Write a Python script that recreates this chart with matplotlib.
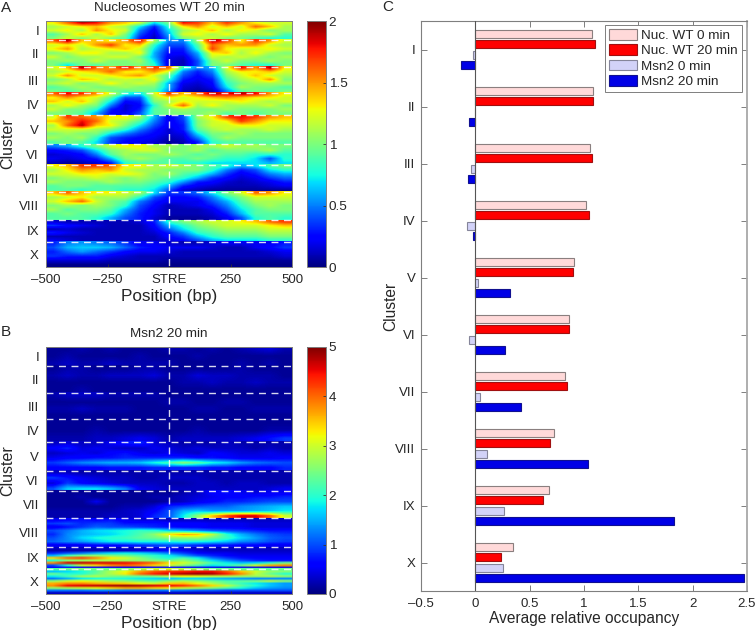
from matplotlib import pyplot as plt
from matplotlib.cm import ScalarMappable
from matplotlib.colors import Normalize

plt.rcParams['font.family'] = ['Liberation Sans', 'DejaVu Sans']

W, H = 756, 630

cluster_names = ['I', 'II', 'III', 'IV', 'V', 'VI', 'VII', 'VIII', 'IX', 'X']
cluster_edges = [0, 7.7, 18.7, 29.3, 38.3, 50.0, 58.4, 69.4, 80.9, 89.8, 100]
position_ticks = [-500, -250, 0, 250, 500]
position_labels = ['\u2013500', '\u2013250', 'STRE', '250', '500']

# panel C
nuc_0 = [1.077, 1.086, 1.058, 1.015, 0.905, 0.859, 0.822, 0.720, 0.675, 0.347]
nuc_20 = [1.104, 1.083, 1.074, 1.043, 0.896, 0.862, 0.844, 0.687, 0.623, 0.239]
msn_0 = [-0.018, -0.005, -0.037, -0.074, 0.020, -0.055, 0.043, 0.104, 0.260, 0.255]
msn_20 = [-0.135, -0.055, -0.067, -0.025, 0.316, 0.270, 0.417, 1.040, 1.825, 2.475]

# panel A, rough reading of the heatmap, rows top to bottom, columns -500..500
nuc_I = [[1.3,1.6,1.9,1.8,1.5,1.4,1.2,0.7,1.0,1.8,1.7,1.4,1.7,1.5,1.3,1.2,1.2],
         [1.1,1.2,1.3,1.4,1.2,1.1,0.7,0.3,0.8,1.3,1.5,1.2,1.4,1.2,1.6,1.4,1.1],
         [1.2,1.3,1.1,1.5,1.3,1.2,0.5,0.2,0.7,1.1,1.2,1.4,1.1,1.3,1.2,1.0,1.1],
         [0.9,1.1,1.4,1.1,1.4,1.0,0.4,0.15,0.6,1.2,1.3,1.1,1.3,1.1,1.1,1.2,0.9],
         [1.0,1.2,1.0,1.2,1.0,0.9,0.3,0.1,0.5,1.0,1.1,1.2,1.0,1.0,0.9,0.8,0.8]]
nuc_II = [[1.6,1.9,1.4,1.4,1.3,1.5,1.8,1.1,0.5,0.5,1.1,1.9,1.7,1.3,1.7,1.5,1.2],
          [1.2,1.3,1.2,1.5,1.7,1.3,1.4,0.8,0.4,0.4,0.9,1.6,1.4,1.5,1.5,1.2,1.1],
          [1.3,1.5,1.1,1.2,1.3,1.4,1.2,0.7,0.3,0.3,0.8,1.7,1.3,1.2,1.2,1.3,1.2],
          [1.0,1.1,1.3,1.3,1.1,1.1,1.3,0.6,0.25,0.25,0.6,1.3,1.4,1.1,1.3,1.1,1.0],
          [1.2,1.0,1.1,1.1,1.2,1.2,1.0,0.6,0.2,0.15,0.5,1.2,1.1,1.2,1.1,1.0,1.1],
          [1.0,1.1,1.0,1.2,1.0,1.0,1.1,0.7,0.15,0.1,0.4,1.0,1.2,1.0,1.0,1.1,1.0],
          [1.0,0.7,1.0,0.9,1.0,1.0,1.0,0.8,0.15,0.1,0.4,1.0,1.0,0.9,0.8,0.8,1.0]]
nuc_III = [[1.2,1.4,1.9,1.6,1.5,1.8,1.5,1.7,1.6,0.8,0.5,0.6,1.2,1.8,1.5,1.9,1.3],
           [1.1,1.2,1.3,1.4,1.6,1.3,1.3,1.5,1.2,0.5,0.3,0.5,1.1,1.3,1.3,1.4,1.2],
           [1.2,1.5,1.2,1.2,1.3,1.4,1.5,1.2,0.9,0.4,0.25,0.4,1.0,1.2,1.4,1.2,1.1],
           [1.0,1.1,1.4,1.3,1.1,1.2,1.1,1.3,0.8,0.3,0.2,0.3,0.9,1.1,1.2,1.5,1.0],
           [1.1,1.2,1.0,1.1,1.3,1.1,1.2,1.1,0.6,0.2,0.15,0.25,0.8,1.0,1.1,1.1,1.1],
           [0.9,1.0,1.1,1.0,1.0,1.1,1.0,1.0,0.6,0.15,0.1,0.2,0.7,1.1,1.0,1.0,0.9],
           [1.0,0.9,1.0,1.1,1.0,0.9,1.0,0.9,0.5,0.1,0.05,0.1,0.5,0.9,1.0,0.9,1.0]]
nuc_IV = [[1.6,1.8,1.7,1.5,1.2,0.8,0.7,1.2,1.7,1.4,1.6,1.9,1.8,1.9,1.8,1.5,1.3],
          [1.3,1.5,1.3,1.2,0.9,0.4,0.4,1.1,1.3,1.2,1.3,1.4,1.5,1.4,1.3,1.3,1.2],
          [1.4,1.2,1.4,1.1,0.7,0.25,0.3,1.0,1.1,1.3,1.2,1.2,1.2,1.3,1.2,1.1,1.2],
          [1.1,1.3,1.1,1.0,0.5,0.15,0.25,0.8,1.2,1.6,1.1,1.3,1.1,1.1,1.1,1.2,1.0],
          [1.2,1.0,1.0,0.8,0.3,0.15,0.3,0.9,1.0,1.1,1.0,1.0,1.1,1.0,1.0,1.0,1.1],
          [1.0,1.0,0.9,0.6,0.25,0.2,0.4,0.9,1.0,1.0,1.0,1.1,0.9,1.0,0.9,1.0,1.0]]
nuc_V = [[1.2,1.7,1.6,1.5,1.3,1.3,1.1,0.6,0.2,0.4,1.1,1.3,1.7,1.8,1.7,1.5,1.4],
         [1.4,1.5,1.8,1.6,1.2,1.1,0.9,0.5,0.2,0.35,1.0,1.2,1.3,1.7,1.5,1.3,1.3],
         [1.1,1.6,1.9,1.4,1.3,1.0,0.7,0.4,0.2,0.3,1.0,1.2,1.2,1.3,1.3,1.2,1.2],
         [1.2,1.2,1.2,1.1,1.0,0.8,0.5,0.3,0.15,0.3,0.9,1.1,1.2,1.1,1.1,1.2,1.1],
         [1.0,1.1,1.0,1.0,0.7,0.5,0.35,0.25,0.15,0.2,0.7,1.0,1.0,1.1,1.0,1.0,1.0],
         [1.1,1.0,1.1,0.8,0.4,0.3,0.25,0.2,0.1,0.15,0.5,0.9,1.1,1.0,1.0,1.0,1.0],
         [0.9,1.0,0.9,0.7,0.35,0.25,0.2,0.15,0.05,0.1,0.3,0.8,0.9,0.9,0.9,0.9,0.9]]
nuc_VI = [[0.5,0.6,0.8,1.0,1.2,1.3,1.3,1.1,1.1,1.0,1.1,1.1,1.2,1.1,1.1,1.0,1.0],
          [0.25,0.3,0.4,0.7,1.0,1.1,1.2,1.2,1.0,1.0,1.1,0.9,1.0,1.0,1.0,1.1,0.9],
          [0.15,0.2,0.25,0.5,0.9,1.1,1.0,1.0,1.1,1.0,0.9,1.0,0.9,0.9,0.8,0.8,0.8],
          [0.2,0.15,0.2,0.3,0.6,1.0,1.1,1.0,0.9,0.9,1.0,0.9,0.8,0.8,0.7,0.4,0.8],
          [0.1,0.05,0.1,0.15,0.3,0.8,0.9,0.9,0.9,0.8,0.8,0.7,0.7,0.7,0.7,0.6,0.7]]
nuc_VII = [[1.3,1.4,1.7,1.7,1.6,1.3,1.3,1.1,1.2,1.1,1.0,0.9,0.8,0.6,0.7,0.9,1.0],
           [1.1,1.3,1.5,1.4,1.5,1.2,1.1,1.1,1.0,1.0,1.0,0.8,0.5,0.3,0.4,0.7,0.8],
           [1.2,1.2,1.3,1.3,1.2,1.3,1.2,1.0,1.1,0.9,0.8,0.6,0.35,0.2,0.3,0.5,0.6],
           [1.0,1.1,1.1,1.2,1.1,1.0,1.1,1.0,0.9,0.8,0.6,0.35,0.25,0.15,0.2,0.35,0.45],
           [1.1,1.0,1.0,1.0,1.1,1.0,1.0,0.9,0.8,0.55,0.3,0.25,0.15,0.1,0.15,0.2,0.3],
           [0.9,1.0,1.0,0.9,0.9,0.9,0.9,0.8,0.6,0.3,0.2,0.15,0.1,0.1,0.1,0.15,0.2],
           [0.9,0.9,0.8,0.9,0.9,0.8,0.8,0.7,0.4,0.15,0.1,0.05,0.05,0.05,0.05,0.05,0.05]]
nuc_VIII = [[1.4,1.6,1.4,1.3,1.3,1.2,1.1,0.7,0.35,0.35,0.45,0.7,1.0,1.2,1.6,1.5,1.3],
            [1.1,1.2,1.3,1.1,1.1,1.1,0.8,0.4,0.25,0.25,0.3,0.5,0.8,1.0,1.2,1.2,1.2],
            [1.2,1.4,1.6,1.2,1.0,0.9,0.5,0.3,0.2,0.2,0.2,0.4,0.6,0.9,1.1,1.1,1.1],
            [1.0,1.1,1.0,1.1,1.0,0.8,0.4,0.25,0.1,0.15,0.2,0.3,0.5,0.8,1.0,1.1,1.0],
            [1.1,0.9,1.0,1.0,0.9,0.6,0.35,0.2,0.1,0.1,0.1,0.2,0.4,0.7,0.9,1.0,1.0],
            [0.9,1.0,0.9,0.9,0.8,0.5,0.3,0.2,0.1,0.1,0.1,0.15,0.3,0.6,0.9,0.9,0.9],
            [0.9,0.9,0.9,0.8,0.6,0.4,0.3,0.15,0.05,0.05,0.05,0.1,0.2,0.4,0.8,0.9,0.8]]
nuc_IX = [[0.15,0.1,0.1,0.1,0.1,0.1,0.15,0.3,0.8,1.0,1.1,1.2,1.2,1.3,1.4,1.6,1.7],
          [0.35,0.25,0.2,0.15,0.1,0.1,0.1,0.25,0.6,0.8,1.0,1.1,1.2,1.2,1.2,1.3,1.4],
          [0.1,0.15,0.1,0.1,0.1,0.1,0.1,0.2,0.45,0.7,0.9,1.0,1.1,1.1,1.1,1.2,1.2],
          [0.3,0.2,0.15,0.1,0.1,0.1,0.1,0.15,0.3,0.5,0.8,0.9,1.0,1.0,1.0,1.1,1.1],
          [0.1,0.1,0.1,0.1,0.1,0.1,0.1,0.1,0.25,0.35,0.6,0.8,0.9,0.9,0.9,1.0,1.0],
          [0.2,0.15,0.1,0.1,0.1,0.1,0.1,0.1,0.15,0.25,0.4,0.6,0.7,0.7,0.7,0.8,0.8]]
nuc_X = [[0.3,0.5,0.55,0.5,0.45,0.35,0.2,0.2,0.15,0.1,0.1,0.15,0.2,0.2,0.2,0.2,0.3],
         [0.4,0.6,0.65,0.65,0.6,0.45,0.3,0.25,0.2,0.2,0.2,0.15,0.1,0.1,0.2,0.25,0.35],
         [0.3,0.45,0.55,0.45,0.35,0.25,0.2,0.2,0.15,0.1,0.1,0.1,0.1,0.1,0.1,0.15,0.2],
         [0.35,0.3,0.3,0.3,0.2,0.15,0.1,0.1,0.1,0.1,0.1,0.1,0.1,0.1,0.1,0.1,0.15],
         [0.15,0.15,0.15,0.15,0.1,0.1,0.1,0.1,0.05,0.05,0.05,0.05,0.05,0.05,0.05,0.05,0.05],
         [0.02,0.02,0.02,0.02,0.02,0.02,0.02,0.02,0.02,0.02,0.02,0.02,0.02,0.02,0.02,0.02,0.02]]
nuc_clusters = [nuc_I, nuc_II, nuc_III, nuc_IV, nuc_V, nuc_VI, nuc_VII, nuc_VIII, nuc_IX, nuc_X]

# panel B
msn_I = [[0.1,0.1,0.2,0.1,0.2,0.1,0.1,0.1,0.2,0.2,0.1,0.2,0.1,0.2,0.3,0.4,0.2],
         [0.1,0.2,0.1,0.1,0.1,0.1,0.2,0.1,0.1,0.1,0.2,0.1,0.1,0.1,0.1,0.1,0.1],
         [0.2,0.3,0.2,0.2,0.3,0.2,0.2,0.2,0.2,0.1,0.1,0.1,0.1,0.2,0.1,0.2,0.1]]
msn_II = [[0.1,0.2,0.2,0.1,0.1,0.1,0.2,0.2,0.1,0.1,0.1,0.1,0.1,0.2,0.1,0.1,0.1],
          [0.2,0.3,0.2,0.2,0.3,0.3,0.3,0.4,0.2,0.2,0.4,0.3,0.3,0.2,0.2,0.2,0.1],
          [0.1,0.1,0.1,0.1,0.1,0.1,0.1,0.1,0.1,0.2,0.2,0.3,0.2,0.2,0.3,0.2,0.2],
          [0.1,0.1,0.2,0.1,0.1,0.1,0.1,0.1,0.1,0.1,0.1,0.1,0.1,0.1,0.1,0.1,0.1]]
msn_III = [[0.2,0.3,0.3,0.3,0.2,0.2,0.2,0.2,0.1,0.1,0.1,0.1,0.1,0.1,0.1,0.1,0.1],
           [0.1,0.1,0.1,0.1,0.1,0.1,0.1,0.1,0.2,0.2,0.1,0.1,0.2,0.2,0.1,0.1,0.1],
           [0.2,0.2,0.3,0.2,0.2,0.2,0.1,0.1,0.1,0.1,0.2,0.2,0.1,0.1,0.2,0.2,0.2],
           [0.1,0.1,0.1,0.1,0.1,0.1,0.1,0.1,0.1,0.1,0.1,0.1,0.1,0.1,0.1,0.1,0.1]]
msn_IV = [[0.1,0.1,0.1,0.1,0.1,0.1,0.1,0.1,0.1,0.1,0.1,0.1,0.1,0.1,0.1,0.1,0.1],
          [0.1,0.1,0.1,0.2,0.1,0.1,0.1,0.1,0.1,0.1,0.2,0.1,0.1,0.1,0.1,0.2,0.2],
          [0.2,0.2,0.2,0.3,0.3,0.4,0.5,0.4,0.2,0.3,0.3,0.3,0.3,0.4,0.5,0.7,0.9]]
msn_V = [[0.3,0.4,0.3,0.3,0.5,0.7,0.8,0.4,0.3,0.2,0.2,0.2,0.3,0.2,0.2,0.2,0.2],
         [0.6,0.8,0.4,0.5,0.4,0.3,0.3,0.5,0.4,0.3,0.4,0.3,0.3,0.3,0.2,0.3,0.2],
         [0.3,0.4,0.5,0.4,0.6,0.7,0.5,0.4,0.5,0.4,0.3,0.6,0.5,0.4,0.4,0.5,0.4],
         [0.5,0.6,0.6,0.7,0.7,0.8,0.8,0.8,0.8,0.8,0.7,0.7,0.6,0.5,0.5,0.5,0.6],
         [0.9,1.1,1.3,1.4,1.5,1.5,1.6,1.9,2.2,2.6,2.3,1.9,1.7,1.4,1.2,1.1,1.0],
         [0.6,0.6,0.6,0.6,0.7,0.7,0.7,0.8,0.8,0.8,0.8,0.7,0.7,0.6,0.6,0.6,0.8]]
msn_VI = [[0.3,0.3,0.2,0.2,0.2,0.2,0.2,0.2,0.2,0.2,0.2,0.2,0.2,0.2,0.2,0.2,0.2],
          [0.9,0.7,0.5,0.4,0.3,0.3,0.2,0.2,0.3,0.3,0.3,0.2,0.2,0.2,0.2,0.2,0.2],
          [0.4,0.9,0.6,0.5,0.4,0.3,0.3,0.3,0.2,0.2,0.3,0.3,0.2,0.3,0.3,0.2,0.2],
          [1.0,1.6,1.7,1.7,1.5,1.2,0.5,0.4,0.3,0.3,0.3,0.3,0.3,0.3,0.3,0.4,0.5]]
msn_VII = [[0.1,0.1,0.1,0.1,0.1,0.1,0.1,0.1,0.1,0.2,0.3,0.6,0.7,0.5,0.4,0.5,0.5],
           [0.1,0.1,0.2,0.1,0.1,0.1,0.1,0.2,0.2,0.3,0.4,0.5,0.6,0.6,0.7,0.7,0.8],
           [0.1,0.1,0.1,0.5,0.1,0.1,0.1,0.1,0.2,0.3,0.5,0.6,0.8,0.8,0.9,1.0,1.0],
           [0.1,0.1,0.1,0.1,0.1,0.2,0.2,0.4,0.8,0.9,1.0,1.1,1.1,1.3,1.4,1.5,1.6],
           [0.2,0.2,0.2,0.2,0.2,0.3,0.4,0.6,1.0,1.5,1.6,1.4,1.4,1.4,1.5,1.6,1.8],
           [0.2,0.2,0.2,0.2,0.3,0.3,0.4,0.8,1.0,1.8,2.6,3.5,4.2,4.6,4.6,4.0,3.0]]
msn_VIII = [[0.5,0.6,0.7,0.6,0.7,0.5,0.4,0.4,0.3,0.3,0.3,0.3,0.3,0.3,0.3,0.3,0.3],
            [0.9,1.0,0.8,0.9,0.9,0.7,0.7,0.7,0.6,0.6,0.6,0.5,0.5,0.5,0.4,0.4,0.4],
            [0.5,0.7,0.9,1.1,1.0,1.0,0.9,0.8,0.7,0.6,0.6,0.5,0.5,0.5,0.4,0.4,0.4],
            [1.0,1.2,1.5,1.7,1.8,1.9,2.1,2.0,1.7,1.5,1.3,1.1,1.0,0.9,0.8,0.7,0.7],
            [0.8,1.3,1.5,1.6,1.7,1.9,2.2,2.6,3.3,3.7,3.5,2.9,2.0,1.5,1.2,1.0,0.9],
            [1.0,1.3,1.7,1.9,2.0,2.1,2.3,2.4,2.6,2.6,2.7,2.4,2.1,1.7,1.4,1.1,1.0],
            [1.1,1.3,1.4,1.6,1.8,1.8,1.9,1.9,1.9,2.0,1.9,1.8,1.6,1.3,1.2,1.0,0.9],
            [0.5,0.5,0.5,0.6,0.6,0.7,0.8,0.9,1.0,0.9,0.8,0.7,0.7,0.6,0.6,0.5,0.5]]
msn_IX = [[0.3,0.3,0.3,0.3,0.3,0.3,0.3,0.4,0.5,0.4,0.3,0.3,0.3,0.3,0.3,0.3,0.3],
          [0.2,0.2,0.2,0.2,0.25,0.3,0.4,0.5,0.7,0.5,0.4,0.3,0.3,0.3,0.3,0.3,0.3],
          [0.8,1.0,1.2,1.5,1.7,1.8,1.7,1.5,1.2,0.9,0.6,0.5,0.5,0.4,0.4,0.4,0.4],
          [1.5,2.1,2.5,2.6,2.5,2.4,2.2,2.0,1.8,1.4,1.0,0.8,0.6,0.5,0.5,0.5,0.5],
          [3.4,4.0,4.2,3.8,3.3,3.0,2.6,2.2,1.9,2.2,1.8,1.2,0.9,0.7,0.6,0.6,0.6],
          [2.0,2.6,2.7,2.8,2.8,2.7,2.6,2.5,2.4,2.6,2.2,1.7,1.3,1.0,0.8,0.7,0.7],
          [3.8,4.6,4.7,4.6,4.6,4.5,4.3,4.0,3.4,3.0,2.7,2.2,1.8,1.6,1.7,2.0,2.4],
          [1.0,2.0,3.0,3.4,3.8,4.0,3.8,3.4,3.0,2.6,2.2,1.8,2.0,2.4,3.0,3.6,3.8],
          [0.6,0.7,0.6,0.6,0.6,0.6,0.6,0.6,0.6,0.6,0.5,0.5,0.5,0.5,0.5,0.5,0.5]]
msn_X = [[2.2,2.4,2.5,2.4,2.4,2.5,2.7,2.9,3.0,2.8,2.6,2.4,2.4,2.3,2.3,2.3,2.4],
         [1.6,1.7,1.9,2.3,2.8,3.2,3.7,4.1,4.3,4.4,4.5,4.5,4.1,3.5,3.0,2.6,2.5],
         [2.4,2.0,2.0,2.4,2.8,3.3,4.0,4.4,4.6,4.8,4.9,4.8,4.4,3.8,2.9,2.4,2.0],
         [1.8,2.2,2.7,2.8,2.5,2.4,2.4,2.5,2.9,3.2,3.1,2.9,2.8,2.7,2.7,2.8,2.6],
         [1.2,1.5,1.8,1.9,2.0,1.9,1.8,1.7,1.6,1.7,1.7,1.6,1.5,1.4,1.3,1.3,1.3],
         [2.6,3.0,3.2,3.0,2.7,2.6,2.4,2.3,2.6,2.8,2.6,2.4,2.2,2.3,2.5,2.9,2.6],
         [3.6,3.8,3.8,3.6,3.5,3.4,3.2,3.0,3.4,3.5,3.2,2.8,2.4,2.1,1.8,1.6,1.4],
         [3.8,4.5,4.6,4.7,4.8,4.9,4.8,4.6,4.5,4.3,3.9,3.4,2.9,2.3,1.9,1.6,1.4],
         [2.6,2.8,3.0,3.2,3.4,3.6,3.6,3.4,3.3,3.0,2.8,2.5,2.2,1.9,1.6,1.4,1.3],
         [1.2,1.2,1.2,1.3,1.3,1.2,1.2,1.2,1.2,1.2,1.1,1.1,1.0,1.0,1.0,1.0,1.0],
         [0.3,0.3,0.3,0.3,0.3,0.3,0.3,0.3,0.3,0.3,0.3,0.3,0.3,0.3,0.3,0.3,0.3]]
msn_clusters = [msn_I, msn_II, msn_III, msn_IV, msn_V, msn_VI, msn_VII, msn_VIII, msn_IX, msn_X]

axis_gray = '#7f7f7f'
text_gray = '#262626'


def pixel_axes(fig, left, top, right, bottom):
    # axes placed with pixel coordinates of the picture, y going down
    return fig.add_axes([left / W, 1 - bottom / H, (right - left) / W, (bottom - top) / H])


def draw_heatmap(fig, clusters, vmax, ticks, tick_labels, top, bottom, title):
    ax = pixel_axes(fig, 46, top, 292, bottom)
    for i, rows in enumerate(clusters):
        ax.imshow(rows, extent=[-500, 500, cluster_edges[i + 1], cluster_edges[i]],
                  aspect='auto', interpolation='bilinear', cmap='jet', vmin=0, vmax=vmax)
    ax.set_xlim(-500, 500)
    ax.set_ylim(100, 0)
    for edge in cluster_edges[1:-1]:
        ax.plot([-500, 500], [edge, edge], color='white', lw=1, dashes=(5, 4), alpha=0.85)
    ax.plot([0, 0], [0, 100], color='white', lw=1, dashes=(5, 4), alpha=0.85)

    mids = [(a + b) / 2 for a, b in zip(cluster_edges[:-1], cluster_edges[1:])]
    ax.set_yticks(mids, cluster_names)
    ax.set_xticks(position_ticks, position_labels)
    ax.tick_params(axis='y', length=0, pad=5, labelsize=9.5, labelcolor=text_gray)
    ax.tick_params(axis='x', length=2, width=0.6, direction='in', color='#333333',
                   pad=5, labelsize=9.5, labelcolor=text_gray)
    for spine in ax.spines.values():
        spine.set_color(axis_gray)
        spine.set_linewidth(0.7)
    ax.set_xlabel('Position (bp)', fontsize=12.3, color=text_gray, labelpad=2)
    ax.set_ylabel('Cluster', fontsize=11.5, color=text_gray)
    ax.yaxis.set_label_coords(-0.126, 0.5)
    ax.set_title(title, fontsize=9.7, color=text_gray, pad=7)

    cax = pixel_axes(fig, 307, top, 326, bottom)
    cb = fig.colorbar(ScalarMappable(Normalize(0, vmax), 'jet'), cax=cax)
    cb.set_ticks(ticks, labels=tick_labels)
    cb.ax.tick_params(length=2, width=0.6, direction='in', color='#333333', pad=2,
                      labelsize=9.7, labelcolor=text_gray)
    cb.outline.set_edgecolor(axis_gray)
    cb.outline.set_linewidth(0.7)


def draw_bars(fig):
    ax = pixel_axes(fig, 421, 21, 747, 591)
    styles = [(nuc_0, -0.277, '#ffd9d9', '#8a7f7f', 'Nuc. WT 0 min'),
              (nuc_20, -0.093, '#ff0000', '#a01010', 'Nuc. WT 20 min'),
              (msn_0, 0.091, '#d2d2f8', '#85859a', 'Msn2 0 min'),
              (msn_20, 0.275, '#0000e6', '#101090', 'Msn2 20 min')]
    positions = range(1, len(cluster_names) + 1)
    for values, offset, face, edge, label in styles:
        ax.barh([p + offset for p in positions], values, height=0.146, color=face,
                edgecolor=edge, linewidth=0.8, label=label, zorder=2)
    ax.axvline(0, color='#555555', lw=0.8, zorder=3)
    ax.set_xlim(-0.5, 2.5)
    ax.set_ylim(10.5, 0.5)
    ax.set_xticks([-0.5, 0, 0.5, 1, 1.5, 2, 2.5], ['\u20130.5', '0', '0.5', '1', '1.5', '2', '2.5'])
    ax.set_yticks(list(positions), cluster_names)
    ax.tick_params(axis='both', direction='in', length=4, width=0.7, color=axis_gray,
                   top=True, right=True, labelsize=9.5, labelcolor=text_gray)
    ax.tick_params(axis='y', pad=4)
    ax.tick_params(axis='x', pad=5)
    for spine in ax.spines.values():
        spine.set_color(axis_gray)
        spine.set_linewidth(0.8)
    ax.spines['right'].set_color('#a8a8a8')
    ax.spines['right'].set_linewidth(1.3)
    ax.set_xlabel('Average relative occupancy', fontsize=11.2, color=text_gray, labelpad=1)
    ax.set_ylabel('Cluster', fontsize=11.2, color=text_gray)
    ax.yaxis.set_label_coords(-0.071, 0.5)
    legend = ax.legend(loc='upper right', bbox_to_anchor=((742 - 421) / 326, 1 - 4 / 570),
                       borderaxespad=0, fontsize=9.7, fancybox=False, framealpha=1,
                       edgecolor=axis_gray, handlelength=2.05, handleheight=0.85,
                       labelspacing=0.17, handletextpad=0.35, borderpad=0.3)
    legend.get_frame().set_linewidth(0.7)
    for text in legend.get_texts():
        text.set_color(text_gray)


fig = plt.figure(figsize=(W / 100, H / 100), dpi=100)

draw_heatmap(fig, nuc_clusters, 2, [0, 0.5, 1, 1.5, 2], ['0', '0.5', '1', '1.5', '2'],
             21, 267, 'Nucleosomes WT 20 min')
draw_heatmap(fig, msn_clusters, 5, [0, 1, 2, 3, 4, 5], ['0', '1', '2', '3', '4', '5'],
             347, 594, 'Msn2 20 min')
draw_bars(fig)

fig.text(1 / W, 1 - 8 / H, 'A', fontsize=11, color=text_gray, va='center')
fig.text(1 / W, 1 - 332 / H, 'B', fontsize=11, color=text_gray, va='center')
fig.text(382 / W, 1 - 7 / H, 'C', fontsize=11, color=text_gray, va='center')

fig.savefig('out.png', dpi=100)
